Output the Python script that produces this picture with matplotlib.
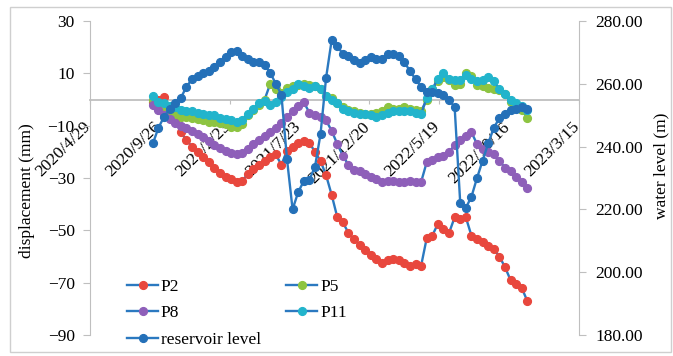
import matplotlib
matplotlib.use("Agg")
import matplotlib.pyplot as plt
import matplotlib.transforms as mtransforms
from matplotlib.patches import Rectangle
import pandas as pd

plt.rcParams['font.family'] = ['Liberation Serif', 'DejaVu Serif']
plt.rcParams['font.size'] = 12.5

dates = ['2020-09-11', '2020-09-23', '2020-10-05', '2020-10-17', '2020-10-29', '2020-11-10',
         '2020-11-22', '2020-12-04', '2020-12-16', '2020-12-28', '2021-01-09', '2021-01-21',
         '2021-02-02', '2021-02-14', '2021-02-26', '2021-03-10', '2021-03-22', '2021-04-03',
         '2021-04-15', '2021-04-27', '2021-05-09', '2021-05-21', '2021-06-02', '2021-06-14',
         '2021-06-26', '2021-07-08', '2021-07-20', '2021-08-01', '2021-08-13', '2021-08-25',
         '2021-09-06', '2021-09-18', '2021-09-30', '2021-10-12', '2021-10-24', '2021-11-05',
         '2021-11-17', '2021-11-29', '2021-12-11', '2021-12-23', '2022-01-04', '2022-01-16',
         '2022-01-28', '2022-02-09', '2022-02-21', '2022-03-05', '2022-03-17', '2022-03-29',
         '2022-04-10', '2022-04-22', '2022-05-04', '2022-05-16', '2022-05-28', '2022-06-09',
         '2022-06-21', '2022-07-03', '2022-07-15', '2022-07-27', '2022-08-08', '2022-08-20',
         '2022-09-01', '2022-09-13', '2022-09-25', '2022-10-07', '2022-10-19', '2022-10-31',
         '2022-11-12', '2022-11-24']

p2 = [-1, 0, 1, -4, -8, -12.5, -15.5, -18, -20, -22, -24, -26, -28, -29.5, -30.5, -31.5, -31,
      -28.5, -26.5, -25, -23.5, -22, -21, -25, -19.5, -18, -16.5, -16, -16.5, -20, -23.5, -29,
      -36.5, -45, -47, -51, -53.5, -55.5, -57.5, -59.5, -61, -62.5, -61.5, -61, -61.5, -62.5,
      -63.5, -63, -63.5, -53, -52, -47.5, -49.5, -51, -45, -45.5, -45, -52, -53.5, -54.5, -56,
      -57, -60, -64, -69, -70.5, -72, -77]

p5 = [0, -2, -3, -4.5, -5.5, -6.5, -6.5, -7, -7.5, -8, -8.5, -8.5, -9, -9.5, -10.5, -10.5, -9.5,
      -6, -4, -2, 0, 6, 4, 2.5, 4.5, 5, 5.5, 6, 5.5, 5, 4, 1.5, 0.5, -1.5, -3, -4, -4.5, -5,
      -5.5, -5.5, -5, -4.5, -3, -3.5, -3.5, -3, -3.5, -4, -4.5, 0, 4, 7, 8.5, 7.5, 5.5, 6, 10, 9,
      5.5, 5, 4.5, 4, 3.5, 2, -1, -2.5, -4, -7]

p8 = [-2, -4, -6, -7.5, -9, -10, -11, -12, -13, -14.5, -16, -17.5, -18.5, -19.5, -20.5, -21,
      -20.5, -19, -17, -15.5, -14, -12.5, -11, -9, -6.5, -4.5, -2.5, -1, -5, -6, -6.5, -8, -12,
      -17, -21.5, -25, -27, -27.5, -28.5, -29.5, -30.5, -31.5, -31, -31, -31.5, -31.5, -31,
      -31.5, -31.5, -24, -23, -22, -21.5, -20, -17.5, -15.5, -14, -12.5, -17, -19, -20, -21,
      -23.5, -26, -27.5, -29.5, -31.5, -34]

p11 = [1.5, -1, -1.5, -2.5, -3, -4, -4.5, -4.5, -5, -5.5, -6, -6, -7, -7.5, -8, -8.5, -8, -5.5,
       -3.5, -1.5, -0.5, -2, -1, 1, 3, 4, 6, 5, 4.5, 5, 4, 1.5, 0, -1.5, -3.5, -4.5, -5, -5.5,
       -5.5, -6, -6.5, -6, -5, -4.5, -4.5, -4.5, -4.5, -5, -5.5, 0.5, 4, 8, 10, 8, 7.5, 7.5, 9.5,
       8, 7, 7.5, 8.5, 7, 4, 2, 0, -1.5, -2.5, -4]

reservoir = [241, 246, 249.5, 252, 254, 255.5, 259, 261.5, 262.5, 263.5, 264, 265.5, 267, 268.5,
             270, 270.5, 269, 268, 267, 267, 266, 263.5, 260, 256.5, 236, 220, 225.5, 229, 229.5,
             233.5, 244, 262, 274, 272, 269.5, 269, 267.5, 266.5, 267.5, 268.5, 268, 268, 269.5,
             269.5, 269, 267, 264, 261.5, 259, 257.5, 257.5, 257, 256.5, 255, 252.5, 222, 220.5,
             224, 230, 235.5, 241, 246, 249, 250.5, 251.5, 252, 252.5, 252]

tick_labels = ['2020/4/29', '2020/9/26', '2021/2/23', '2021/7/23', '2021/12/20',
               '2022/5/19', '2022/10/16', '2023/3/15']

x = pd.to_datetime(dates)
tick_pos = pd.to_datetime(tick_labels, format='%Y/%m/%d')

W, H = 673, 356
fig = plt.figure(figsize=(W / 100, H / 100), dpi=100)
ax = fig.add_axes([90 / W, 1 - 335 / H, (579 - 90) / W, (335 - 21) / H])
ax2 = ax.twinx()

line_c = '#2B79C0'
ms = 5.6
lw = 1.7
l_p2, = ax.plot(x, p2, color=line_c, lw=lw, marker='o', ms=ms, mfc='#E8473D', mec='#E8473D', label='P2')
l_p5, = ax.plot(x, p5, color=line_c, lw=lw, marker='o', ms=ms, mfc='#8DC441', mec='#8DC441', label='P5')
l_p8, = ax.plot(x, p8, color=line_c, lw=lw, marker='o', ms=ms, mfc='#8E5FB9', mec='#8E5FB9', label='P8')
l_p11, = ax.plot(x, p11, color=line_c, lw=lw, marker='o', ms=ms, mfc='#22B4CC', mec='#22B4CC', label='P11')
l_res, = ax2.plot(x, reservoir, color=line_c, lw=lw, marker='o', ms=ms, mfc='#2470B8', mec='#2470B8',
                  label='reservoir level')

spine_c = '#BFBFBF'
ax.set_xlim(tick_pos[0], tick_pos[-1])
ax.set_ylim(-90, 30)
ax.set_yticks(range(-90, 31, 20))
ax2.set_ylim(180, 280)
ax2.set_yticks(range(180, 281, 20))
ax2.yaxis.set_major_formatter(matplotlib.ticker.FormatStrFormatter('%.2f'))

for s in ['top', 'right']:
    ax.spines[s].set_visible(False)
for s in ['top', 'left', 'bottom']:
    ax2.spines[s].set_visible(False)
ax.spines['left'].set_color(spine_c)
ax.spines['bottom'].set_color(spine_c)
ax.spines['bottom'].set_linewidth(1.3)
ax.spines['bottom'].set_position(('data', 0))
ax.spines['bottom'].set_zorder(0.5)
ax2.spines['right'].set_color(spine_c)

ax.set_xticks(tick_pos)
ax.set_xticklabels(tick_labels, rotation=45, ha='right', va='top')
ax.tick_params(axis='x', direction='out', length=3, color=spine_c, pad=11)
ax.tick_params(axis='y', direction='out', length=5, color=spine_c, pad=6)
ax2.tick_params(axis='y', direction='out', length=5, color=spine_c, pad=7)
offset = mtransforms.ScaledTranslation(4 / 100, 0, fig.dpi_scale_trans)
for lab in ax.get_xticklabels():
    lab.set_transform(lab.get_transform() + offset)

ax.set_ylabel('displacement (mm)')
ax.yaxis.set_label_coords(-0.112, 0.46)
ax2.set_ylabel('water level (m)')
ax2.yaxis.set_label_coords(1.153, 0.538)

ax2.legend(handles=[l_p2, l_p8, l_res, l_p5, l_p11], ncol=2, loc='lower left',
           bbox_to_anchor=(127 / W, 1 - 348 / H), bbox_transform=fig.transFigure,
           frameon=False, handlelength=1.8, handletextpad=0.15, columnspacing=1.45,
           labelspacing=0.6, borderpad=0, borderaxespad=0)

fig.patches.append(Rectangle((10 / W, 4 / H), 661 / W, 345 / H, transform=fig.transFigure,
                             fill=False, ec='#CFCFCF', lw=1.0))

fig.savefig('out.png', dpi=100)
